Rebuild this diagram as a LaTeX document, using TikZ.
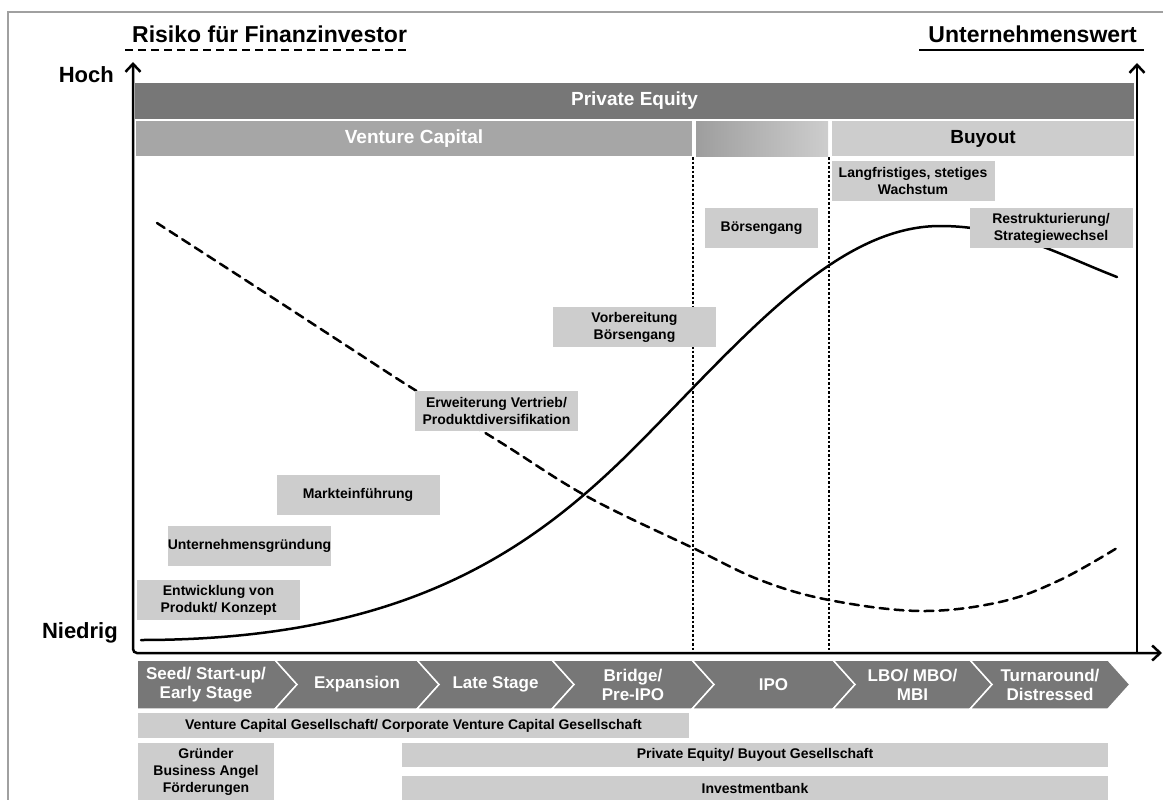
\documentclass[tikz,border=0pt]{standalone}
\usepackage{fontspec}
\setmainfont{Liberation Sans}
\usetikzlibrary{arrows.meta}
\usetikzlibrary{positioning}

\definecolor{darkbar}{HTML}{777777}
\definecolor{midbar}{HTML}{A6A6A6}
\definecolor{lightbar}{HTML}{CDCDCD}
\definecolor{framegray}{HTML}{A0A0A0}

\begin{document}
\begin{tikzpicture}[x=1pt, y=-1pt,
    title/.style={inner sep=0pt, font=\fontsize{23}{25}\selectfont\bfseries},
    axislabel/.style={inner sep=0pt, font=\fontsize{22}{24}\selectfont\bfseries},
    phase/.style={fill=#1, inner sep=0pt, font=\fontsize{19}{21}\selectfont\bfseries},
    stagebox/.style={fill=lightbar, minimum width=163pt, minimum height=40pt, inner sep=0pt,
        align=center, font=\fontsize{14}{17}\selectfont\bfseries},
    investor/.style={fill=lightbar, inner sep=0pt, align=center, font=\fontsize{14}{17}\selectfont\bfseries},
    chevron/.style={fill=darkbar, draw=white, line width=1.5pt, line join=miter},
    chevlabel/.style={text=white, align=center, font=\fontsize{17}{19}\selectfont\bfseries},
    axis/.style={line width=2.5pt, >={Straight Barb[length=8pt,width=15pt]}},
    boundary/.style={line width=2.5pt, dash pattern=on 2.5pt off 2pt},
    curve/.style={line width=2.5pt, line cap=round}]
    \useasboundingbox (0,0) rectangle (1163,800);

    % outer frame
    \draw[framegray, line width=2pt] (8,800) -- (8,12) -- (1163,12);

    % titles of both axes
    \node[title, anchor=base west] (risk) at (132,43) {Risiko für Finanzinvestor};
    \draw[line width=2.5pt, dash pattern=on 8pt off 5pt] ([xshift=-7pt,yshift=-7pt]risk.base west) -- ([xshift=2pt,yshift=-7pt]risk.base east);
    \node[title, anchor=base east] (value) at (1137,43) {Unternehmenswert};
    \draw[line width=2.5pt] ([xshift=-9pt,yshift=-7pt]value.base west) -- ([xshift=7pt,yshift=-7pt]value.base east);

    \node[axislabel, anchor=east] (high) at (114,75) {Hoch};
    \node[axislabel, anchor=east] (low) at (118,633) {Niedrig};

    % financing phases
    \node[phase=darkbar, text=white, minimum width=999pt, minimum height=36pt] (pe) at (634.5,101) {Private Equity};
    \node[phase=midbar, text=white, minimum width=556pt, minimum height=35pt] (vc) at (414,138.5) {Venture Capital};
    \shade[left color=midbar!95!black, right color=lightbar] (696,121) rectangle (828,156);
    \node[phase=lightbar, minimum width=302pt, minimum height=35pt] (buyout) at (983,138.5) {Buyout};

    % IPO window
    \draw[boundary] (693,157) -- (693,652);
    \draw[boundary] (829,157) -- (829,652);

    % risk and company value
    \draw[curve, dash pattern=on 9pt off 6pt] plot[smooth, tension=0.6] coordinates {
        (157,223) (250,283) (350,348) (415,390) (500,442) (588,497) (693,548)
        (760,580) (829,600) (920,611) (1000,602) (1060,580) (1117,548)};
    \draw[curve] (141,640) .. controls (420,640) and (545,540) .. (650,432)
        .. controls (750,330) and (840,226) .. (940,226)
        .. controls (1010,226) and (1060,255) .. (1117,277);

    % development steps
    \node[stagebox] (concept) at (218.5,600) {Entwicklung von\\Produkt/ Konzept};
    \node[stagebox] (founding) at (249.5,546) {Unternehmensgründung};
    \node[stagebox] (launch) at (358,495) {Markteinführung};
    \node[stagebox] (growth) at (496.5,411) {Erweiterung Vertrieb/\\Produktdiversifikation};
    \node[stagebox] (prepare) at (634.5,327) {Vorbereitung\\Börsengang};
    \node[stagebox, minimum width=113pt] (listing) at (761.5,228) {Börsengang};
    \node[stagebox] (steady) at (913,181) {Langfristiges, stetiges\\Wachstum};
    \node[stagebox] (restructure) at (1051,228) {Restrukturierung/\\Strategiewechsel};

    % axes
    \coordinate (origin) at (133,653);
    \coordinate (ytop) at (133,62);
    \coordinate (xend) at (1162,653);
    \coordinate (rbottom) at (1137,653);
    \coordinate (rtop) at (1137,63);
    \draw[axis, <->, rounded corners=4pt] (ytop) -- (origin) -- (xend);
    \draw[axis, ->] (rbottom) -- (rtop);

    % investment stages
    \foreach \xl/\xr/\nl/\txt [count=\i] in {137/275/0/{Seed/ Start-up/\\Early Stage}, 275/417/22/Expansion,
        417/552/22/Late Stage, 552/692/22/{Bridge/\\Pre-IPO}, 692/833/22/IPO,
        833/970/22/{LBO/ MBO/\\MBI}, 970/1108/22/{Turnaround/\\Distressed}}
    {
        \filldraw[chevron] (\xl,660) -- (\xr,660) -- (\xr+22,684.5) -- (\xr,709) -- (\xl,709) -- (\xl+\nl,684.5) -- cycle;
        \node[chevlabel] (stage\i) at ({(\xl+\xr)/2+\nl/2},684.5) {\txt};
    }

    % typical investors
    \node[investor, minimum width=551pt, minimum height=25pt] (vcfirm) at (413.5,725.5) {Venture Capital Gesellschaft/ Corporate Venture Capital Gesellschaft};
    \node[investor, minimum width=136pt, minimum height=57pt] (angels) at (206,771.5) {Gründer\\Business Angel\\Förderungen};
    \node[investor, minimum width=706pt, minimum height=24pt] (pefirm) at (755,755) {Private Equity/ Buyout Gesellschaft};
    \node[investor, minimum width=706pt, minimum height=24pt] (bank) at (755,788) {Investmentbank};
\end{tikzpicture}
\end{document}
